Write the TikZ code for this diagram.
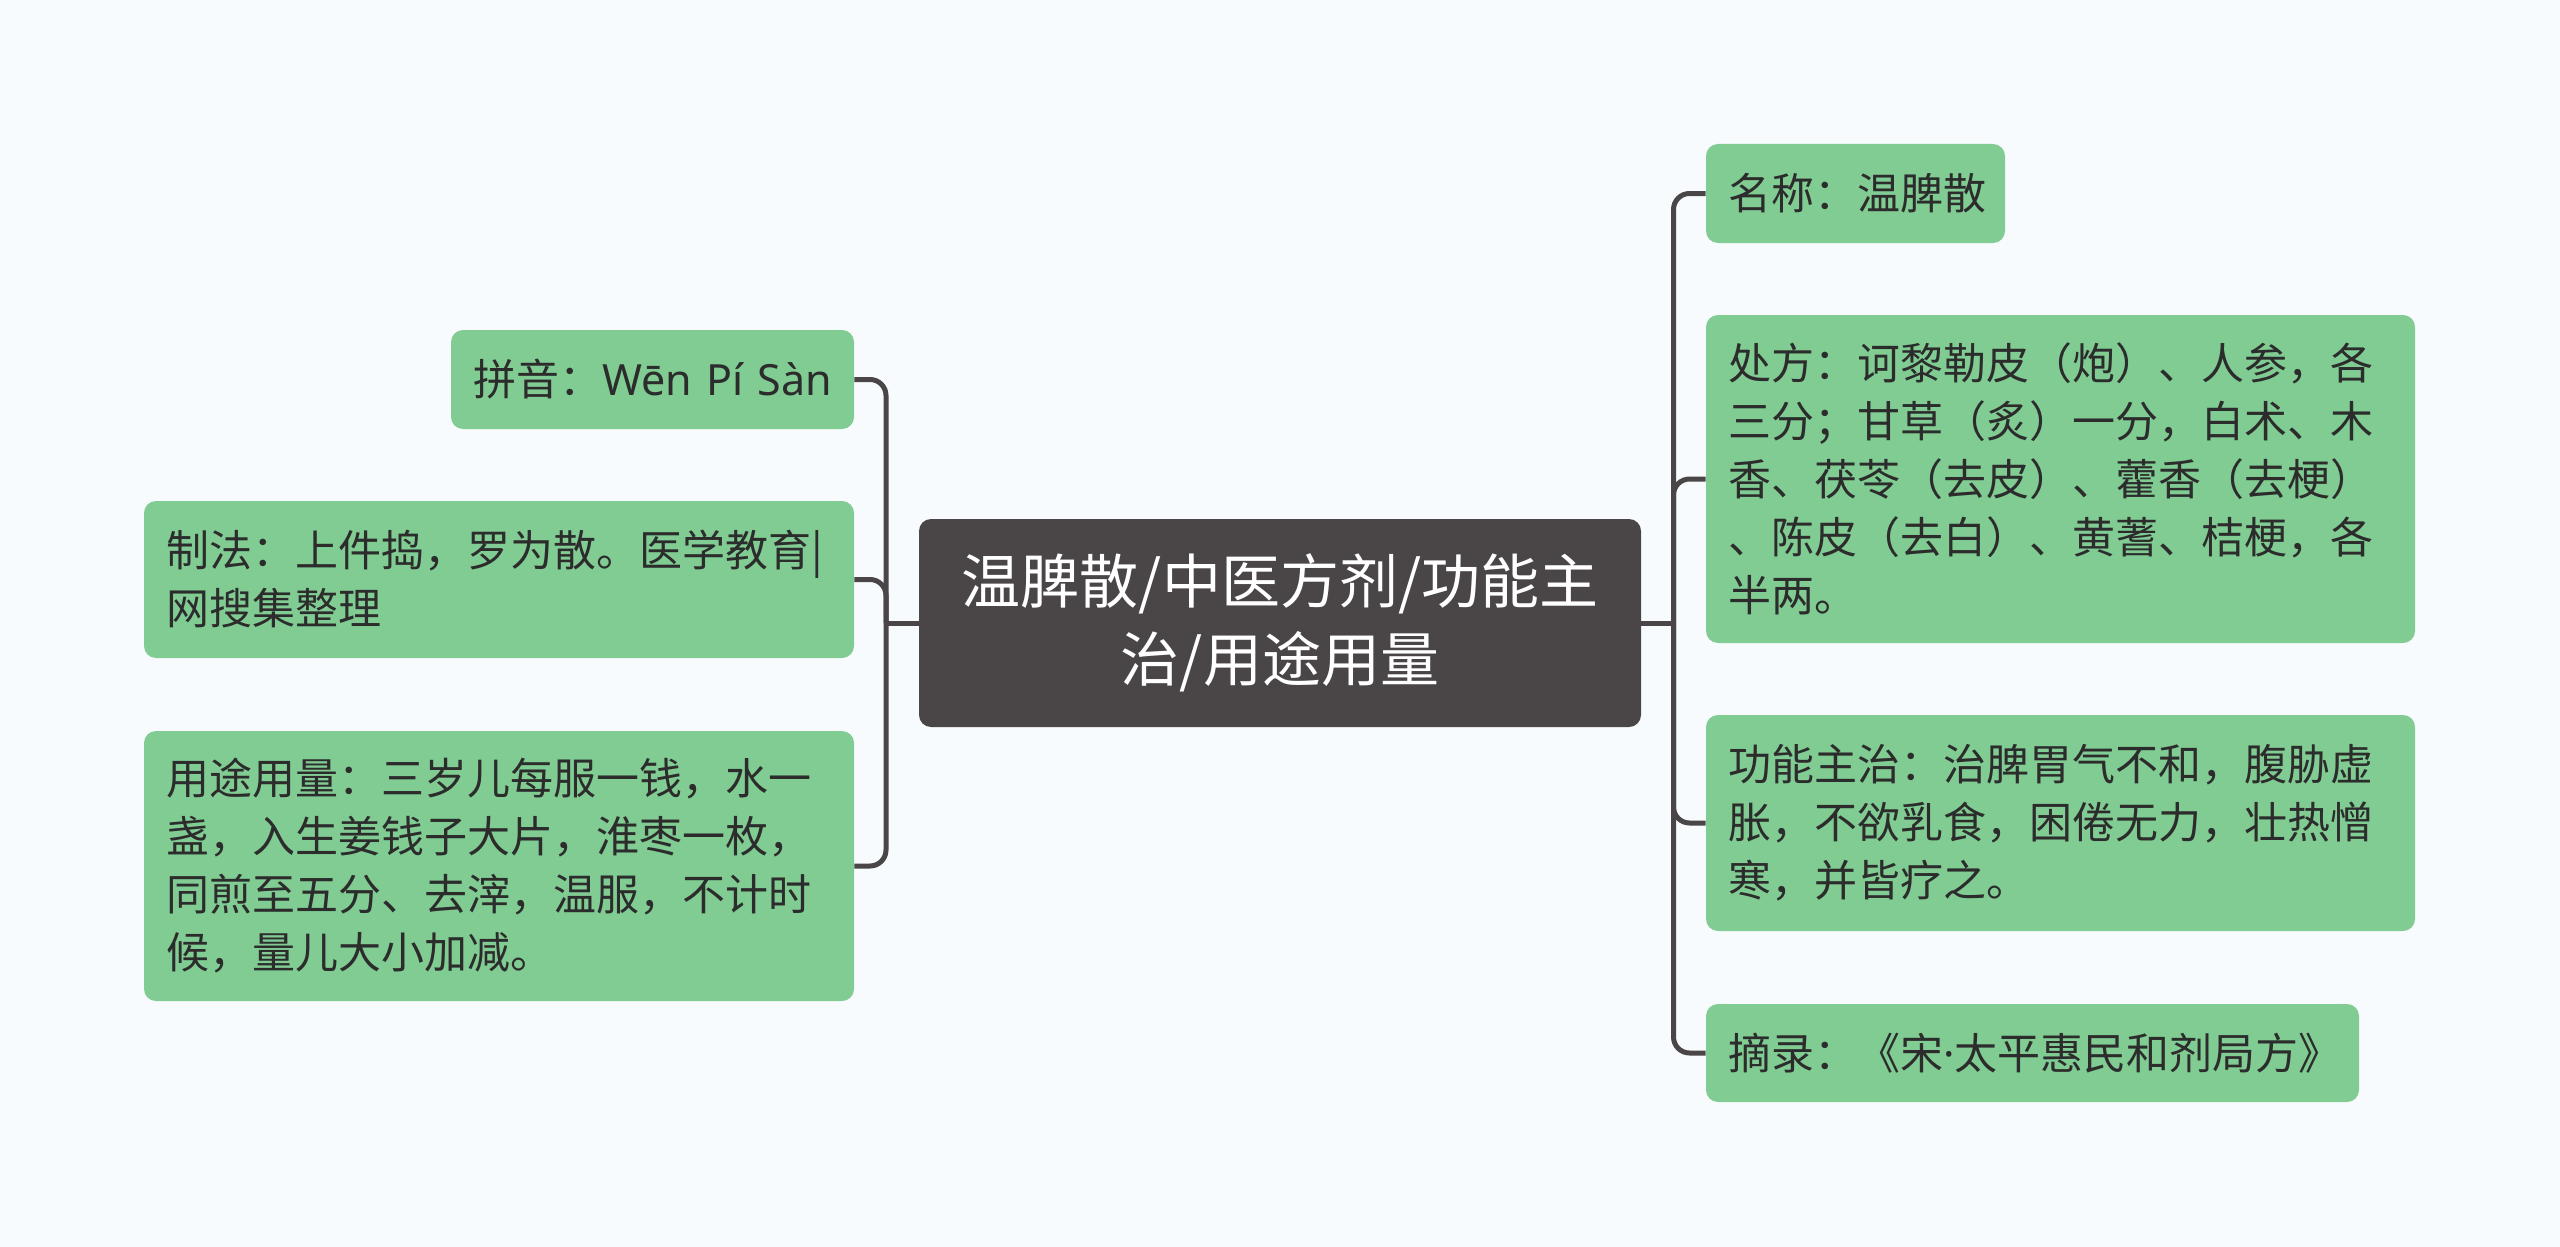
\documentclass[tikz,border=0pt]{standalone}
\usepackage{fontspec}
\setmainfont{Noto Sans CJK SC}
\newfontfamily\latinfont{Noto Sans}
\definecolor{bg}{HTML}{F8FBFD}
\definecolor{leaf}{HTML}{80CC93}
\definecolor{rootc}{HTML}{4A4546}
\definecolor{linec}{HTML}{4A4546}
\definecolor{txt}{HTML}{2C2C2C}
\tikzset{
  leafbox/.style={rectangle, rounded corners=6pt, fill=leaf, draw=none,
    text=txt, align=left, inner xsep=11pt, inner ysep=0pt,
    font=\fontsize{21.5pt}{29pt}\selectfont},
  rootbox/.style={rectangle, rounded corners=6pt, fill=rootc, draw=none,
    text=white, align=center, inner sep=0pt,
    font=\fontsize{29.5pt}{39pt}\selectfont},
  conn/.style={draw=linec, line width=2.5pt, rounded corners=8pt}
}
\begin{document}
\begin{tikzpicture}[x=0.5pt,y=-0.5pt]
\useasboundingbox[fill=bg] (0,0) rectangle (2560,1247);
% root
\node[rootbox, minimum width=361pt, minimum height=104pt] (root) at (1280,623)
  {温脾散/中医方剂/功能主\\治/用途用量};
% left
\node[leafbox, text width=179.5pt, minimum height=49.5pt] (pinyin) at (652.5,379.5)
  {拼音：{\latinfont Wēn~Pí~Sàn}};
\node[leafbox, text width=333pt, minimum height=78.5pt] (zhifa) at (499,579.5)
  {制法：上件捣，罗为散。医学教育|\\网搜集整理};
\node[leafbox, text width=333pt, minimum height=135pt] (yongtu) at (499,866)
  {用途用量：三岁儿每服一钱，水一\\盏，入生姜钱子大片，淮枣一枚，\\同煎至五分、去滓，温服，不计时\\候，量儿大小加减。};
% right
\node[leafbox, text width=127.5pt, minimum height=49.5pt] (mingcheng) at (1855.5,193.5)
  {名称：温脾散};
\node[leafbox, text width=332.5pt, minimum height=164pt] (chufang) at (2060.5,479)
  {处方：诃黎勒皮（炮）、人参，各\\三分；甘草（炙）一分，白术、木\\香、茯苓（去皮）、藿香（去梗）\\、陈皮（去白）、黄蓍、桔梗，各\\半两。};
\node[leafbox, text width=332.5pt, minimum height=108pt] (gongneng) at (2060.5,823)
  {功能主治：治脾胃气不和，腹胁虚\\胀，不欲乳食，困倦无力，壮热憎\\寒，并皆疗之。};
\node[leafbox, text width=304.5pt, minimum height=49pt] (zhailu) at (2032.5,1053)
  {摘录：《宋{\latinfont ·}太平惠民和剂局方》};
% junctions
\coordinate (jl) at (886,623);
\coordinate (jr) at (1673.5,623);
% connectors
\draw[conn] (root.west) -- (jl);
\draw[conn] (root.east) -- (jr);
\draw[conn] (jl) |- (pinyin.east);
\draw[conn] (jl) |- (zhifa.east);
\draw[conn] (jl) |- (yongtu.east);
\draw[conn] (jr) |- (mingcheng.west);
\draw[conn] (jr) |- (chufang.west);
\draw[conn] (jr) |- (gongneng.west);
\draw[conn] (jr) |- (zhailu.west);
\end{tikzpicture}
\end{document}
